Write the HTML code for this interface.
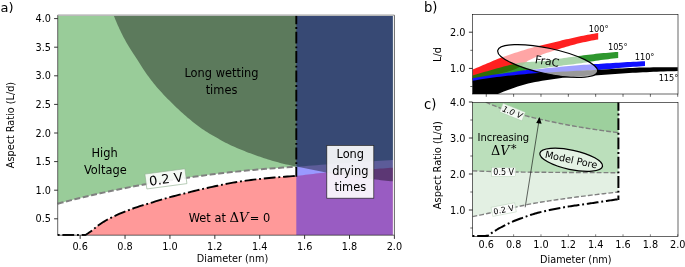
<!DOCTYPE html>
<html><head><meta charset="utf-8"><title>Figure</title>
<style>
html,body{margin:0;padding:0;background:#fff;}
svg{display:block;}
text{font-family:'DejaVu Sans','Liberation Sans',sans-serif;fill:#000;}
</style></head>
<body>
<svg width="685" height="267" viewBox="0 0 685 267">
<rect width="685" height="267" fill="#fff"/>
<clipPath id="ca"><rect x="57.8" y="15.8" width="335.09999999999997" height="219.5"/></clipPath>
<g clip-path="url(#ca)">
<path d="M57.80,15.80 L392.90,15.80 L393.30,160.00 L389.05,160.24 L384.80,160.48 L380.56,160.73 L376.31,160.98 L372.06,161.24 L367.81,161.50 L363.56,161.77 L359.32,162.04 L355.07,162.32 L350.82,162.61 L346.57,162.90 L342.32,163.20 L338.07,163.51 L333.83,163.82 L329.58,164.13 L325.33,164.45 L321.08,164.79 L316.83,165.14 L312.59,165.50 L308.34,165.86 L304.09,166.21 L299.84,166.54 L296.30,166.80 L295.59,166.85 L291.35,167.11 L287.10,167.36 L282.85,167.61 L278.60,167.90 L274.35,168.20 L270.11,168.53 L265.86,168.87 L261.61,169.22 L257.36,169.59 L253.11,169.97 L248.86,170.36 L244.62,170.77 L240.37,171.20 L236.12,171.63 L231.87,172.08 L227.62,172.55 L223.38,173.03 L219.13,173.52 L214.88,174.03 L210.63,174.57 L206.38,175.12 L202.14,175.69 L197.89,176.27 L193.64,176.86 L189.39,177.46 L185.14,178.07 L180.89,178.68 L176.65,179.30 L172.40,179.94 L168.15,180.58 L163.90,181.24 L159.65,181.91 L155.41,182.60 L151.16,183.30 L146.91,184.02 L142.66,184.76 L138.41,185.52 L134.17,186.32 L129.92,187.13 L125.67,187.97 L121.42,188.82 L117.17,189.69 L112.93,190.57 L108.68,191.47 L104.43,192.39 L100.18,193.33 L95.93,194.28 L91.68,195.25 L87.44,196.23 L83.19,197.24 L78.94,198.26 L74.69,199.31 L70.44,200.38 L66.20,201.47 L61.95,202.58 L57.70,203.70Z" fill="#008000" fill-opacity="0.4"/>
<path d="M85.50,235.00 L88.09,233.31 L90.67,231.50 L93.26,229.41 L95.85,227.24 L98.43,225.20 L101.02,223.44 L103.61,221.81 L106.19,220.29 L108.78,218.88 L111.37,217.56 L113.95,216.32 L116.54,215.13 L119.13,213.99 L121.71,212.89 L124.30,211.84 L126.88,210.82 L129.47,209.82 L132.06,208.87 L134.64,207.94 L137.23,207.06 L139.82,206.21 L142.40,205.39 L144.99,204.60 L147.58,203.84 L150.16,203.09 L152.75,202.30 L155.34,201.47 L157.92,200.63 L160.51,199.83 L163.10,199.08 L165.68,198.35 L168.27,197.64 L170.86,196.94 L173.44,196.26 L176.03,195.59 L178.62,194.93 L181.20,194.27 L183.79,193.61 L186.38,192.96 L188.96,192.31 L191.55,191.67 L194.14,191.03 L196.72,190.41 L199.31,189.79 L201.89,189.18 L204.48,188.59 L207.07,188.00 L209.65,187.43 L212.24,186.87 L214.83,186.30 L217.41,185.74 L220.00,185.19 L222.59,184.64 L225.17,184.11 L227.76,183.59 L230.35,183.10 L232.93,182.63 L235.52,182.19 L238.11,181.78 L240.69,181.40 L243.28,181.03 L245.87,180.67 L248.45,180.32 L251.04,179.99 L253.63,179.67 L256.21,179.36 L258.80,179.07 L261.39,178.78 L263.97,178.50 L266.56,178.24 L269.15,177.98 L271.73,177.74 L274.32,177.51 L276.91,177.31 L279.49,177.11 L282.08,176.92 L284.66,176.73 L287.25,176.54 L289.84,176.34 L292.42,176.14 L295.01,175.92 L296.30,175.80 L297.60,175.68 L300.18,175.41 L302.77,175.13 L305.36,174.83 L307.94,174.52 L310.53,174.21 L313.12,173.90 L315.70,173.59 L318.29,173.29 L320.88,173.00 L323.46,172.74 L326.05,172.50 L328.64,172.27 L331.22,172.06 L333.81,171.85 L336.40,171.65 L338.98,171.46 L341.57,171.28 L344.16,171.09 L346.74,170.91 L349.33,170.74 L351.92,170.56 L354.50,170.38 L357.09,170.20 L359.67,170.02 L362.26,169.84 L364.85,169.66 L367.43,169.47 L370.02,169.29 L372.61,169.11 L375.19,168.93 L377.78,168.75 L380.37,168.58 L382.95,168.40 L385.54,168.22 L388.13,168.05 L390.71,167.87 L393.30,167.70 L392.90,235.30 L85.50,235.30Z" fill="#ff0000" fill-opacity="0.4"/>
<rect x="296.3" y="15.8" width="96.59999999999997" height="219.5" fill="#0000ff" fill-opacity="0.4"/>
<path d="M113.80,15.50 L114.55,17.45 L115.32,19.39 L116.11,21.32 L116.92,23.24 L117.75,25.15 L118.60,27.05 L119.47,28.94 L120.36,30.82 L121.26,32.69 L122.18,34.55 L123.11,36.40 L124.08,38.24 L125.08,40.07 L126.10,41.89 L127.14,43.70 L128.20,45.49 L129.26,47.28 L130.34,49.06 L131.45,50.82 L132.58,52.56 L133.73,54.30 L134.89,56.03 L136.04,57.76 L137.19,59.50 L138.31,61.26 L139.41,63.03 L140.50,64.80 L141.59,66.57 L142.72,68.32 L143.87,70.05 L145.05,71.76 L146.24,73.47 L147.46,75.16 L148.68,76.85 L149.93,78.53 L151.19,80.19 L152.46,81.83 L153.76,83.46 L155.07,85.06 L156.40,86.65 L157.76,88.23 L159.13,89.79 L160.53,91.33 L161.94,92.87 L163.36,94.39 L164.80,95.90 L166.25,97.40 L167.71,98.89 L169.17,100.37 L170.64,101.85 L172.12,103.31 L173.60,104.77 L175.09,106.21 L176.60,107.65 L178.12,109.08 L179.64,110.50 L181.18,111.91 L182.73,113.30 L184.29,114.68 L185.86,116.05 L187.44,117.40 L189.03,118.73 L190.63,120.06 L192.24,121.39 L193.86,122.70 L195.50,123.99 L197.15,125.27 L198.82,126.52 L200.49,127.75 L202.19,128.95 L203.91,130.11 L205.64,131.24 L207.40,132.35 L209.18,133.43 L210.98,134.50 L212.78,135.54 L214.59,136.58 L216.40,137.60 L218.22,138.62 L220.03,139.64 L221.86,140.65 L223.69,141.65 L225.53,142.63 L227.38,143.58 L229.24,144.50 L231.12,145.38 L233.01,146.25 L234.91,147.09 L236.81,147.93 L238.73,148.75 L240.65,149.56 L242.58,150.35 L244.51,151.12 L246.46,151.89 L248.40,152.64 L250.35,153.37 L252.30,154.09 L254.26,154.80 L256.22,155.49 L258.18,156.17 L260.15,156.84 L262.12,157.51 L264.10,158.16 L266.08,158.80 L268.07,159.43 L270.06,160.04 L272.06,160.64 L274.06,161.23 L276.06,161.80 L278.06,162.35 L280.07,162.89 L282.08,163.41 L284.10,163.91 L286.12,164.40 L288.15,164.87 L290.18,165.32 L292.22,165.76 L294.26,166.19 L296.30,166.60 L296.30,166.60 L298.79,167.06 L301.27,167.52 L303.76,167.99 L306.25,168.47 L308.74,168.95 L311.22,169.44 L313.71,169.96 L316.20,170.49 L318.68,171.02 L321.17,171.55 L323.66,172.06 L326.15,172.53 L328.63,172.96 L331.12,173.38 L333.61,173.78 L336.09,174.17 L338.58,174.55 L341.07,174.92 L343.56,175.29 L346.04,175.65 L348.53,176.02 L351.02,176.37 L353.51,176.72 L355.99,177.06 L358.48,177.40 L360.97,177.73 L363.45,178.05 L365.94,178.38 L368.43,178.69 L370.92,179.00 L373.40,179.30 L375.89,179.59 L378.38,179.87 L380.86,180.14 L383.35,180.41 L385.84,180.67 L388.33,180.92 L390.81,181.16 L393.30,181.40 L392.90,15.80Z" fill="#000" fill-opacity="0.4"/>
</g>
<path d="M57.70,203.70 L61.95,202.58 L66.20,201.47 L70.44,200.38 L74.69,199.31 L78.94,198.26 L83.19,197.24 L87.44,196.23 L91.68,195.25 L95.93,194.28 L100.18,193.33 L104.43,192.39 L108.68,191.47 L112.93,190.57 L117.17,189.69 L121.42,188.82 L125.67,187.97 L129.92,187.13 L134.17,186.32 L138.41,185.52 L142.66,184.76 L146.91,184.02 L151.16,183.30 L155.41,182.60 L159.65,181.91 L163.90,181.24 L168.15,180.58 L172.40,179.94 L176.65,179.30 L180.89,178.68 L185.14,178.07 L189.39,177.46 L193.64,176.86 L197.89,176.27 L202.14,175.69 L206.38,175.12 L210.63,174.57 L214.88,174.03 L219.13,173.52 L223.38,173.03 L227.62,172.55 L231.87,172.08 L236.12,171.63 L240.37,171.20 L244.62,170.77 L248.86,170.36 L253.11,169.97 L257.36,169.59 L261.61,169.22 L265.86,168.87 L270.11,168.53 L274.35,168.20 L278.60,167.90 L282.85,167.61 L287.10,167.36 L291.35,167.11 L295.59,166.85 L296.30,166.80" fill="none" stroke="#808080" stroke-width="2" stroke-dasharray="6,2.6"/>
<path d="M57.70,235.00 L85.50,235.00 L88.09,233.31 L90.67,231.50 L93.26,229.41 L95.85,227.24 L98.43,225.20 L101.02,223.44 L103.61,221.81 L106.19,220.29 L108.78,218.88 L111.37,217.56 L113.95,216.32 L116.54,215.13 L119.13,213.99 L121.71,212.89 L124.30,211.84 L126.88,210.82 L129.47,209.82 L132.06,208.87 L134.64,207.94 L137.23,207.06 L139.82,206.21 L142.40,205.39 L144.99,204.60 L147.58,203.84 L150.16,203.09 L152.75,202.30 L155.34,201.47 L157.92,200.63 L160.51,199.83 L163.10,199.08 L165.68,198.35 L168.27,197.64 L170.86,196.94 L173.44,196.26 L176.03,195.59 L178.62,194.93 L181.20,194.27 L183.79,193.61 L186.38,192.96 L188.96,192.31 L191.55,191.67 L194.14,191.03 L196.72,190.41 L199.31,189.79 L201.89,189.18 L204.48,188.59 L207.07,188.00 L209.65,187.43 L212.24,186.87 L214.83,186.30 L217.41,185.74 L220.00,185.19 L222.59,184.64 L225.17,184.11 L227.76,183.59 L230.35,183.10 L232.93,182.63 L235.52,182.19 L238.11,181.78 L240.69,181.40 L243.28,181.03 L245.87,180.67 L248.45,180.32 L251.04,179.99 L253.63,179.67 L256.21,179.36 L258.80,179.07 L261.39,178.78 L263.97,178.50 L266.56,178.24 L269.15,177.98 L271.73,177.74 L274.32,177.51 L276.91,177.31 L279.49,177.11 L282.08,176.92 L284.66,176.73 L287.25,176.54 L289.84,176.34 L292.42,176.14 L295.01,175.92 L296.30,175.80" fill="none" stroke="#000" stroke-width="1.9" stroke-dasharray="11.8,2.8,1.9,2.8" stroke-dashoffset="14.6" stroke-linejoin="round"/>
<path d="M296.3,15.8V176.70" fill="none" stroke="#000" stroke-width="1.9" stroke-dasharray="11.8,2.8,1.9,2.8" stroke-dashoffset="3.3"/>
<path d="M57.7,15.2H394.4" stroke="#a4a4a4" stroke-width="1.2" fill="none"/>
<path d="M57.7,15.2V235.2H394.4V15.2" stroke="#222" stroke-width="0.7" fill="none"/>
<path d="M54.1,218.80H57.7" stroke="#000" stroke-width="0.8"/>
<text x="50.900000000000006" y="222.35" font-size="9.7" text-anchor="end">0.5</text>
<path d="M54.1,190.20H57.7" stroke="#000" stroke-width="0.8"/>
<text x="50.900000000000006" y="193.75" font-size="9.7" text-anchor="end">1.0</text>
<path d="M54.1,161.60H57.7" stroke="#000" stroke-width="0.8"/>
<text x="50.900000000000006" y="165.15" font-size="9.7" text-anchor="end">1.5</text>
<path d="M54.1,133.00H57.7" stroke="#000" stroke-width="0.8"/>
<text x="50.900000000000006" y="136.55" font-size="9.7" text-anchor="end">2.0</text>
<path d="M54.1,104.40H57.7" stroke="#000" stroke-width="0.8"/>
<text x="50.900000000000006" y="107.95" font-size="9.7" text-anchor="end">2.5</text>
<path d="M54.1,75.80H57.7" stroke="#000" stroke-width="0.8"/>
<text x="50.900000000000006" y="79.35" font-size="9.7" text-anchor="end">3.0</text>
<path d="M54.1,47.20H57.7" stroke="#000" stroke-width="0.8"/>
<text x="50.900000000000006" y="50.75" font-size="9.7" text-anchor="end">3.5</text>
<path d="M54.1,18.60H57.7" stroke="#000" stroke-width="0.8"/>
<text x="50.900000000000006" y="22.15" font-size="9.7" text-anchor="end">4.0</text>
<path d="M80.15,235.2V238.89999999999998" stroke="#000" stroke-width="0.8"/>
<text x="80.15" y="249.7" font-size="9.7" text-anchor="middle">0.6</text>
<path d="M125.04,235.2V238.89999999999998" stroke="#000" stroke-width="0.8"/>
<text x="125.04" y="249.7" font-size="9.7" text-anchor="middle">0.8</text>
<path d="M169.94,235.2V238.89999999999998" stroke="#000" stroke-width="0.8"/>
<text x="169.94" y="249.7" font-size="9.7" text-anchor="middle">1.0</text>
<path d="M214.83,235.2V238.89999999999998" stroke="#000" stroke-width="0.8"/>
<text x="214.83" y="249.7" font-size="9.7" text-anchor="middle">1.2</text>
<path d="M259.72,235.2V238.89999999999998" stroke="#000" stroke-width="0.8"/>
<text x="259.72" y="249.7" font-size="9.7" text-anchor="middle">1.4</text>
<path d="M304.62,235.2V238.89999999999998" stroke="#000" stroke-width="0.8"/>
<text x="304.62" y="249.7" font-size="9.7" text-anchor="middle">1.6</text>
<path d="M349.51,235.2V238.89999999999998" stroke="#000" stroke-width="0.8"/>
<text x="349.51" y="249.7" font-size="9.7" text-anchor="middle">1.8</text>
<path d="M394.40,235.2V238.89999999999998" stroke="#000" stroke-width="0.8"/>
<text x="394.40" y="249.7" font-size="9.7" text-anchor="middle">2.0</text>
<text x="232.5" y="261.6" font-size="9.7" text-anchor="middle">Diameter (nm)</text>
<text transform="translate(14.3,125) rotate(-90)" font-size="9.7" text-anchor="middle">Aspect Ratio (L/d)</text>
<text x="0.5" y="11.5" font-size="13">a)</text>
<text x="221.5" y="76.7" font-size="11.4" text-anchor="middle">Long wetting</text>
<text x="221.5" y="93.6" font-size="11.4" text-anchor="middle">times</text>
<text x="104.6" y="156.7" font-size="11.4" text-anchor="middle">High</text>
<text x="105.3" y="173.5" font-size="11.4" text-anchor="middle">Voltage</text>
<g transform="translate(165.9,178.85) rotate(-7.6)"><rect x="-20.2" y="-7.5" width="40.4" height="15" fill="#fff" fill-opacity="0.88" stroke="#8fb08f" stroke-width="0.6"/><text x="0" y="4.7" font-size="13" text-anchor="middle">0.2 V</text></g>
<text x="229.5" y="221.7" font-size="11.4" text-anchor="middle">Wet at <tspan font-family="'DejaVu Serif','Liberation Serif',serif" font-size="13.2">Δ</tspan><tspan font-family="'DejaVu Serif','Liberation Serif',serif" font-style="italic" font-size="13.2">V</tspan><tspan dx="1.2">= 0</tspan></text>
<rect x="326.8" y="145.4" width="47" height="52.8" fill="#fff" fill-opacity="0.9" stroke="#222" stroke-width="0.7"/>
<text x="350.3" y="157.6" font-size="11.4" text-anchor="middle">Long</text>
<text x="350.3" y="174.5" font-size="11.4" text-anchor="middle">drying</text>
<text x="350.3" y="191.4" font-size="11.4" text-anchor="middle">times</text>
<clipPath id="cb"><rect x="472.5" y="14.3" width="205.5" height="79.7"/></clipPath>
<g clip-path="url(#cb)">
<path d="M472.50,69.50 L474.63,68.63 L476.76,67.75 L478.89,66.88 L481.02,66.00 L483.15,65.11 L485.28,64.23 L487.41,63.34 L489.54,62.43 L491.67,61.51 L493.81,60.58 L495.94,59.68 L498.07,58.80 L500.20,57.98 L502.33,57.20 L504.46,56.43 L506.59,55.69 L508.72,54.97 L510.85,54.25 L512.98,53.54 L515.11,52.84 L517.24,52.14 L519.37,51.46 L521.50,50.78 L523.63,50.13 L525.76,49.49 L527.89,48.87 L530.02,48.26 L532.15,47.67 L534.28,47.09 L536.42,46.52 L538.55,45.97 L540.68,45.43 L542.81,44.91 L544.94,44.40 L547.07,43.90 L549.20,43.41 L551.33,42.90 L553.46,42.39 L555.59,41.88 L557.72,41.38 L559.85,40.88 L561.98,40.37 L564.11,39.87 L566.24,39.37 L568.37,38.88 L570.50,38.39 L572.63,37.90 L574.76,37.43 L576.89,36.97 L579.03,36.52 L581.16,36.09 L583.29,35.66 L585.42,35.24 L587.55,34.83 L589.68,34.43 L591.81,34.04 L593.94,33.66 L596.07,33.29 L598.20,32.93 L598.20,39.43 L596.07,39.79 L593.94,40.18 L591.81,40.58 L589.68,41.00 L587.55,41.44 L585.42,41.90 L583.29,42.37 L581.16,42.85 L579.03,43.35 L576.89,43.87 L574.76,44.42 L572.63,44.99 L570.50,45.58 L568.37,46.19 L566.24,46.81 L564.11,47.44 L561.98,48.09 L559.85,48.75 L557.72,49.41 L555.59,50.08 L553.46,50.77 L551.33,51.46 L549.20,52.17 L547.07,52.87 L544.94,53.60 L542.81,54.36 L540.68,55.15 L538.55,55.97 L536.42,56.81 L534.28,57.68 L532.15,58.63 L530.02,59.68 L527.89,60.86 L525.76,62.45 L523.63,64.31 L521.50,65.98 L519.37,67.21 L517.24,68.26 L515.11,69.17 L512.98,69.97 L510.85,70.68 L508.72,71.31 L506.59,71.91 L504.46,72.47 L502.33,73.00 L500.20,73.52 L498.07,74.07 L495.94,74.63 L493.81,75.21 L491.67,75.77 L489.54,76.31 L487.41,76.82 L485.28,77.30 L483.15,77.76 L481.02,78.20 L478.89,78.63 L476.76,79.04 L474.63,79.43 L472.50,79.80Z" fill="#ff2020" fill-opacity="1.0"/>
<path d="M472.50,75.40 L474.97,74.69 L477.44,73.98 L479.91,73.27 L482.38,72.56 L484.85,71.86 L487.32,71.15 L489.79,70.44 L492.26,69.73 L494.73,69.02 L497.19,68.32 L499.66,67.65 L502.13,66.99 L504.60,66.34 L507.07,65.71 L509.54,65.09 L512.01,64.49 L514.48,63.88 L516.95,63.26 L519.42,62.78 L521.89,62.49 L524.36,62.27 L526.83,62.09 L529.30,61.94 L531.77,61.80 L534.24,61.67 L536.71,61.53 L539.18,61.37 L541.65,61.18 L544.12,60.94 L546.58,60.65 L549.05,60.33 L551.52,59.96 L553.99,59.56 L556.46,59.16 L558.93,58.77 L561.40,58.39 L563.87,58.04 L566.34,57.69 L568.81,57.34 L571.28,56.99 L573.75,56.65 L576.22,56.32 L578.69,55.99 L581.16,55.67 L583.63,55.35 L586.10,55.04 L588.57,54.73 L591.04,54.43 L593.51,54.14 L595.97,53.85 L598.44,53.57 L600.91,53.32 L603.38,53.09 L605.85,52.88 L608.32,52.67 L610.79,52.47 L613.26,52.27 L615.73,52.08 L618.20,51.90 L618.20,58.00 L615.73,58.28 L613.26,58.56 L610.79,58.86 L608.32,59.15 L605.85,59.46 L603.38,59.77 L600.91,60.08 L598.44,60.43 L595.97,60.81 L593.51,61.20 L591.04,61.61 L588.57,62.01 L586.10,62.40 L583.63,62.79 L581.16,63.16 L578.69,63.50 L576.22,63.83 L573.75,64.14 L571.28,64.45 L568.81,64.75 L566.34,65.05 L563.87,65.35 L561.40,65.66 L558.93,65.99 L556.46,66.32 L553.99,66.67 L551.52,67.02 L549.05,67.37 L546.58,67.69 L544.12,68.03 L541.65,68.37 L539.18,68.71 L536.71,69.06 L534.24,69.41 L531.77,69.77 L529.30,70.15 L526.83,70.53 L524.36,70.92 L521.89,71.32 L519.42,71.73 L516.95,72.14 L514.48,72.56 L512.01,72.97 L509.54,73.37 L507.07,73.77 L504.60,74.16 L502.13,74.53 L499.66,74.90 L497.19,75.26 L494.73,75.63 L492.26,76.01 L489.79,76.41 L487.32,76.83 L484.85,77.28 L482.38,77.75 L479.91,78.24 L477.44,78.74 L474.97,79.26 L472.50,79.80Z" fill="#008000" fill-opacity="0.82"/>
<path d="M472.50,78.30 L475.42,77.72 L478.35,77.16 L481.27,76.63 L484.19,76.13 L487.12,75.66 L490.04,75.22 L492.97,74.82 L495.89,74.43 L498.81,74.04 L501.74,73.64 L504.66,73.24 L507.58,72.84 L510.51,72.43 L513.43,72.01 L516.36,71.53 L519.28,71.03 L522.20,70.55 L525.13,70.14 L528.05,69.85 L530.97,69.62 L533.90,69.42 L536.82,69.18 L539.75,68.92 L542.67,68.65 L545.59,68.37 L548.52,68.09 L551.44,67.78 L554.36,67.46 L557.29,67.15 L560.21,66.86 L563.14,66.58 L566.06,66.31 L568.98,66.04 L571.91,65.78 L574.83,65.53 L577.75,65.29 L580.68,65.07 L583.60,64.86 L586.53,64.67 L589.45,64.48 L592.37,64.29 L595.30,64.10 L598.22,63.90 L601.14,63.71 L604.07,63.53 L606.99,63.36 L609.92,63.18 L612.84,62.99 L615.76,62.81 L618.69,62.63 L621.61,62.44 L624.53,62.27 L627.46,62.10 L630.38,61.93 L633.31,61.78 L636.23,61.63 L639.15,61.48 L642.08,61.34 L645.00,61.20 L645.00,66.10 L642.08,66.27 L639.15,66.45 L636.23,66.64 L633.31,66.84 L630.38,67.05 L627.46,67.28 L624.53,67.53 L621.61,67.79 L618.69,68.07 L615.76,68.35 L612.84,68.64 L609.92,68.92 L606.99,69.18 L604.07,69.43 L601.14,69.66 L598.22,69.90 L595.30,70.12 L592.37,70.32 L589.45,70.50 L586.53,70.68 L583.60,70.87 L580.68,71.07 L577.75,71.29 L574.83,71.51 L571.91,71.74 L568.98,71.98 L566.06,72.22 L563.14,72.47 L560.21,72.73 L557.29,73.00 L554.36,73.27 L551.44,73.55 L548.52,73.80 L545.59,74.04 L542.67,74.28 L539.75,74.53 L536.82,74.79 L533.90,75.05 L530.97,75.32 L528.05,75.59 L525.13,75.87 L522.20,76.16 L519.28,76.46 L516.36,76.76 L513.43,77.07 L510.51,77.39 L507.58,77.72 L504.66,78.06 L501.74,78.42 L498.81,78.80 L495.89,79.19 L492.97,79.60 L490.04,80.03 L487.12,80.46 L484.19,80.91 L481.27,81.37 L478.35,81.84 L475.42,82.32 L472.50,82.80Z" fill="#1010ff" fill-opacity="1.0"/>
<path d="M472.50,80.80 L475.98,80.17 L479.46,79.56 L482.93,78.99 L486.41,78.46 L489.89,77.97 L493.37,77.50 L496.85,77.06 L500.32,76.64 L503.80,76.24 L507.28,75.86 L510.76,75.49 L514.24,75.13 L517.71,74.78 L521.19,74.45 L524.67,74.15 L528.15,73.86 L531.63,73.58 L535.10,73.31 L538.58,73.06 L542.06,72.83 L545.54,72.62 L549.02,72.43 L552.49,72.22 L555.97,72.00 L559.45,71.79 L562.93,71.59 L566.41,71.39 L569.88,71.20 L573.36,71.01 L576.84,70.83 L580.32,70.67 L583.79,70.51 L587.27,70.35 L590.75,70.19 L594.23,70.01 L597.71,69.83 L601.18,69.65 L604.66,69.46 L608.14,69.25 L611.62,69.02 L615.10,68.80 L618.57,68.58 L622.05,68.40 L625.53,68.22 L629.01,68.05 L632.49,67.88 L635.96,67.73 L639.44,67.61 L642.92,67.52 L646.40,67.46 L649.88,67.41 L653.35,67.37 L656.83,67.33 L660.31,67.29 L663.79,67.26 L667.27,67.23 L670.74,67.22 L674.22,67.20 L677.70,67.20 L677.70,71.10 L674.22,71.18 L670.74,71.27 L667.27,71.37 L663.79,71.48 L660.31,71.60 L656.83,71.73 L653.35,71.87 L649.88,72.02 L646.40,72.17 L642.92,72.32 L639.44,72.49 L635.96,72.65 L632.49,72.83 L629.01,73.01 L625.53,73.21 L622.05,73.44 L618.57,73.69 L615.10,73.94 L611.62,74.20 L608.14,74.46 L604.66,74.70 L601.18,74.93 L597.71,75.17 L594.23,75.41 L590.75,75.64 L587.27,75.87 L583.79,76.11 L580.32,76.35 L576.84,76.62 L573.36,76.89 L569.88,77.18 L566.41,77.49 L562.93,77.82 L559.45,78.20 L555.97,78.65 L552.49,79.17 L549.02,79.72 L545.54,80.28 L542.06,80.86 L538.58,81.46 L535.10,82.11 L531.63,82.82 L528.15,83.59 L524.67,84.43 L521.19,85.40 L517.71,86.51 L514.24,87.71 L510.76,88.97 L507.28,90.26 L503.80,91.55 L500.32,92.93 L496.85,94.52 L493.37,96.32 L489.89,98.29 L486.41,100.43 L482.93,102.75 L479.46,105.25 L475.98,107.93 L472.50,110.80Z" fill="#000" fill-opacity="1.0"/>
</g>
<ellipse cx="547.7" cy="61.0" rx="51" ry="12.8" transform="rotate(12 547.7 60.75)" fill="#fff" fill-opacity="0.6" stroke="#000" stroke-width="1.2"/>
<text transform="translate(547.2,61.0) rotate(9)" x="0" y="4" font-size="11" text-anchor="middle">FraC</text>
<rect x="472.5" y="14.3" width="205.5" height="79.7" fill="none" stroke="#000" stroke-width="0.6"/>
<path d="M468.9,68.40H472.5" stroke="#000" stroke-width="0.8"/>
<text x="465.5" y="71.95" font-size="9.7" text-anchor="end">1.0</text>
<path d="M468.9,32.20H472.5" stroke="#000" stroke-width="0.8"/>
<text x="465.5" y="35.75" font-size="9.7" text-anchor="end">2.0</text>
<path d="M470.3,86.50H472.5" stroke="#000" stroke-width="0.6"/>
<path d="M470.3,50.30H472.5" stroke="#000" stroke-width="0.6"/>
<path d="M486.28,94.0V96.8" stroke="#000" stroke-width="0.6"/>
<path d="M513.62,94.0V96.8" stroke="#000" stroke-width="0.6"/>
<path d="M540.98,94.0V96.8" stroke="#000" stroke-width="0.6"/>
<path d="M568.33,94.0V96.8" stroke="#000" stroke-width="0.6"/>
<path d="M595.67,94.0V96.8" stroke="#000" stroke-width="0.6"/>
<path d="M623.03,94.0V96.8" stroke="#000" stroke-width="0.6"/>
<path d="M650.38,94.0V96.8" stroke="#000" stroke-width="0.6"/>
<path d="M677.73,94.0V96.8" stroke="#000" stroke-width="0.6"/>
<text transform="translate(441,54.5) rotate(-90)" font-size="9.7" text-anchor="middle">L/d</text>
<text x="424" y="12.3" font-size="13.2">b)</text>
<text x="598.7" y="31.7" font-size="8.2" text-anchor="middle">100°</text>
<text x="617.8" y="50.0" font-size="8.2" text-anchor="middle">105°</text>
<text x="644.6" y="59.7" font-size="8.2" text-anchor="middle">110°</text>
<text x="668.5" y="80.6" font-size="8.2" text-anchor="middle">115°</text>
<clipPath id="cc"><rect x="472.5" y="102.4" width="205.5" height="133.9"/></clipPath>
<g clip-path="url(#cc)">
<path d="M472.50,102.40 L618.40,102.40 L618.40,192.00 L615.93,192.27 L613.45,192.55 L610.98,192.83 L608.51,193.11 L606.04,193.40 L603.56,193.69 L601.09,193.98 L598.62,194.28 L596.14,194.57 L593.67,194.87 L591.20,195.18 L588.73,195.48 L586.25,195.79 L583.78,196.10 L581.31,196.41 L578.83,196.73 L576.36,197.05 L573.89,197.38 L571.42,197.72 L568.94,198.06 L566.47,198.40 L564.00,198.74 L561.52,199.08 L559.05,199.43 L556.58,199.78 L554.11,200.13 L551.63,200.49 L549.16,200.86 L546.69,201.24 L544.21,201.62 L541.74,202.02 L539.27,202.42 L536.79,202.84 L534.32,203.27 L531.85,203.71 L529.38,204.18 L526.90,204.67 L524.43,205.18 L521.96,205.72 L519.48,206.26 L517.01,206.81 L514.54,207.38 L512.07,207.94 L509.59,208.51 L507.12,209.08 L504.65,209.63 L502.17,210.18 L499.70,210.74 L497.23,211.30 L494.76,211.87 L492.28,212.43 L489.81,212.98 L487.34,213.53 L484.86,214.06 L482.39,214.58 L479.92,215.10 L477.45,215.60 L474.97,216.11 L472.50,216.60Z" fill="#e3f0e3"/>
<path d="M472.50,102.40 L618.40,102.40 L618.40,172.70 L613.37,172.69 L608.34,172.67 L603.31,172.65 L598.28,172.63 L593.24,172.61 L588.21,172.59 L583.18,172.56 L578.15,172.53 L573.12,172.51 L568.09,172.47 L563.06,172.44 L558.03,172.41 L553.00,172.37 L547.97,172.33 L542.93,172.29 L537.90,172.25 L532.87,172.20 L527.84,172.15 L522.81,172.09 L517.78,172.03 L512.75,171.96 L507.72,171.88 L502.69,171.79 L497.66,171.69 L492.62,171.56 L487.59,171.42 L482.56,171.26 L477.53,171.08 L472.50,170.90Z" fill="#bbdfbb"/>
<path d="M485.80,102.40 L618.40,102.40 L618.40,132.70 L616.15,132.41 L613.91,132.12 L611.66,131.82 L609.41,131.52 L607.16,131.21 L604.92,130.90 L602.67,130.58 L600.42,130.26 L598.17,129.94 L595.93,129.61 L593.68,129.28 L591.43,128.94 L589.18,128.60 L586.94,128.26 L584.69,127.91 L582.44,127.55 L580.19,127.18 L577.95,126.80 L575.70,126.41 L573.45,126.01 L571.20,125.60 L568.96,125.19 L566.71,124.76 L564.46,124.33 L562.21,123.89 L559.97,123.45 L557.72,122.99 L555.47,122.53 L553.22,122.06 L550.98,121.59 L548.73,121.11 L546.48,120.62 L544.23,120.13 L541.99,119.63 L539.74,119.12 L537.49,118.61 L535.24,118.09 L533.00,117.57 L530.75,117.03 L528.50,116.48 L526.25,115.93 L524.01,115.36 L521.76,114.77 L519.51,114.18 L517.26,113.56 L515.02,112.93 L512.77,112.28 L510.52,111.60 L508.27,110.89 L506.03,110.15 L503.78,109.37 L501.53,108.57 L499.28,107.73 L497.04,106.86 L494.79,105.96 L492.54,105.02 L490.29,104.04 L488.05,103.04 L485.80,102.00Z" fill="#9dd09d"/>
<path d="M485.80,102.00 L488.05,103.04 L490.29,104.04 L492.54,105.02 L494.79,105.96 L497.04,106.86 L499.28,107.73 L501.53,108.57 L503.78,109.37 L506.03,110.15 L508.27,110.89 L510.52,111.60 L512.77,112.28 L515.02,112.93 L517.26,113.56 L519.51,114.18 L521.76,114.77 L524.01,115.36 L526.25,115.93 L528.50,116.48 L530.75,117.03 L533.00,117.57 L535.24,118.09 L537.49,118.61 L539.74,119.12 L541.99,119.63 L544.23,120.13 L546.48,120.62 L548.73,121.11 L550.98,121.59 L553.22,122.06 L555.47,122.53 L557.72,122.99 L559.97,123.45 L562.21,123.89 L564.46,124.33 L566.71,124.76 L568.96,125.19 L571.20,125.60 L573.45,126.01 L575.70,126.41 L577.95,126.80 L580.19,127.18 L582.44,127.55 L584.69,127.91 L586.94,128.26 L589.18,128.60 L591.43,128.94 L593.68,129.28 L595.93,129.61 L598.17,129.94 L600.42,130.26 L602.67,130.58 L604.92,130.90 L607.16,131.21 L609.41,131.52 L611.66,131.82 L613.91,132.12 L616.15,132.41 L618.40,132.70" fill="none" stroke="#808080" stroke-width="1.4" stroke-dasharray="4.8,2.1"/>
<path d="M472.50,170.90 L477.53,171.08 L482.56,171.26 L487.59,171.42 L492.62,171.56 L497.66,171.69 L502.69,171.79 L507.72,171.88 L512.75,171.96 L517.78,172.03 L522.81,172.09 L527.84,172.15 L532.87,172.20 L537.90,172.25 L542.93,172.29 L547.97,172.33 L553.00,172.37 L558.03,172.41 L563.06,172.44 L568.09,172.47 L573.12,172.51 L578.15,172.53 L583.18,172.56 L588.21,172.59 L593.24,172.61 L598.28,172.63 L603.31,172.65 L608.34,172.67 L613.37,172.69 L618.40,172.70" fill="none" stroke="#808080" stroke-width="1.4" stroke-dasharray="4.8,2.1"/>
<path d="M472.50,216.60 L474.97,216.11 L477.45,215.60 L479.92,215.10 L482.39,214.58 L484.86,214.06 L487.34,213.53 L489.81,212.98 L492.28,212.43 L494.76,211.87 L497.23,211.30 L499.70,210.74 L502.17,210.18 L504.65,209.63 L507.12,209.08 L509.59,208.51 L512.07,207.94 L514.54,207.38 L517.01,206.81 L519.48,206.26 L521.96,205.72 L524.43,205.18 L526.90,204.67 L529.38,204.18 L531.85,203.71 L534.32,203.27 L536.79,202.84 L539.27,202.42 L541.74,202.02 L544.21,201.62 L546.69,201.24 L549.16,200.86 L551.63,200.49 L554.11,200.13 L556.58,199.78 L559.05,199.43 L561.52,199.08 L564.00,198.74 L566.47,198.40 L568.94,198.06 L571.42,197.72 L573.89,197.38 L576.36,197.05 L578.83,196.73 L581.31,196.41 L583.78,196.10 L586.25,195.79 L588.73,195.48 L591.20,195.18 L593.67,194.87 L596.14,194.57 L598.62,194.28 L601.09,193.98 L603.56,193.69 L606.04,193.40 L608.51,193.11 L610.98,192.83 L613.45,192.55 L615.93,192.27 L618.40,192.00" fill="none" stroke="#808080" stroke-width="1.4" stroke-dasharray="4.8,2.1"/>
</g>
<path d="M472.50,235.90 L487.50,235.90 L488.82,235.06 L490.14,234.14 L491.47,233.14 L492.79,232.21 L494.11,231.35 L495.43,230.53 L496.76,229.75 L498.08,228.98 L499.40,228.24 L500.72,227.50 L502.04,226.78 L503.37,226.08 L504.69,225.40 L506.01,224.73 L507.33,224.08 L508.66,223.44 L509.98,222.82 L511.30,222.20 L512.62,221.61 L513.94,221.04 L515.27,220.49 L516.59,219.98 L517.91,219.49 L519.23,219.02 L520.56,218.55 L521.88,218.09 L523.20,217.61 L524.52,217.13 L525.84,216.65 L527.17,216.18 L528.49,215.71 L529.81,215.26 L531.13,214.82 L532.46,214.39 L533.78,213.97 L535.10,213.56 L536.42,213.17 L537.74,212.81 L539.07,212.47 L540.39,212.14 L541.71,211.82 L543.03,211.51 L544.36,211.21 L545.68,210.92 L547.00,210.64 L548.32,210.35 L549.64,210.07 L550.97,209.80 L552.29,209.52 L553.61,209.25 L554.93,208.98 L556.26,208.72 L557.58,208.46 L558.90,208.21 L560.22,207.96 L561.54,207.71 L562.87,207.47 L564.19,207.24 L565.51,207.01 L566.83,206.80 L568.16,206.58 L569.48,206.37 L570.80,206.17 L572.12,205.97 L573.44,205.77 L574.77,205.58 L576.09,205.39 L577.41,205.20 L578.73,205.01 L580.06,204.82 L581.38,204.64 L582.70,204.45 L584.02,204.27 L585.34,204.08 L586.67,203.90 L587.99,203.71 L589.31,203.52 L590.63,203.32 L591.96,203.13 L593.28,202.93 L594.60,202.74 L595.92,202.54 L597.24,202.35 L598.57,202.15 L599.89,201.95 L601.21,201.76 L602.53,201.56 L603.86,201.36 L605.18,201.17 L606.50,200.97 L607.82,200.77 L609.14,200.58 L610.47,200.38 L611.79,200.18 L613.11,199.99 L614.43,199.79 L615.76,199.59 L617.08,199.40 L618.40,199.20" fill="none" stroke="#000" stroke-width="2" stroke-dasharray="11.8,2.8,1.9,2.8" stroke-dashoffset="14.6" stroke-linejoin="round"/>
<path d="M618.4,102.4V200.10" fill="none" stroke="#000" stroke-width="2" stroke-dasharray="11.8,2.8,1.9,2.8" stroke-dashoffset="3.5"/>
<path d="M525.2,207.3 L539,120.5" stroke="#000" stroke-width="0.6" fill="none"/>
<path d="M539.5,117.1 L541.6,123.8 L536.2,122.9 Z" fill="#000"/>
<g transform="translate(512.5,112.1) rotate(22)"><rect x="-12" y="-4.6" width="24" height="9.2" fill="#fff" fill-opacity="0.85" stroke="#a8c8a8" stroke-width="0.4"/><text x="0" y="2.9" font-size="8" font-style="italic" text-anchor="middle">1.0 V</text></g>
<g transform="translate(503.7,172.0) rotate(0)"><rect x="-12" y="-4.6" width="24" height="9.2" fill="#fff" fill-opacity="0.85" stroke="#a8c8a8" stroke-width="0.4"/><text x="0" y="2.9" font-size="8" text-anchor="middle">0.5 V</text></g>
<g transform="translate(503.7,209.6) rotate(-11)"><rect x="-12" y="-4.6" width="24" height="9.2" fill="#fff" fill-opacity="0.85" stroke="#a8c8a8" stroke-width="0.4"/><text x="0" y="2.9" font-size="8" text-anchor="middle">0.2 V</text></g>
<text x="503.4" y="141.2" font-size="10" text-anchor="middle">Increasing</text>
<text x="503.8" y="154.8" font-size="12.8" text-anchor="middle"><tspan font-family="'DejaVu Serif','Liberation Serif',serif">Δ</tspan><tspan font-family="'DejaVu Serif','Liberation Serif',serif" font-style="italic">V</tspan><tspan font-family="'DejaVu Serif','Liberation Serif',serif" font-size="11" dy="-2.6" dx="1.6">*</tspan></text>
<ellipse cx="571.2" cy="159.8" rx="32" ry="9.7" transform="rotate(12 571.2 159.8)" fill="#fff" fill-opacity="0.6" stroke="#000" stroke-width="1.25"/>
<text transform="translate(571.2,159.8) rotate(12)" x="0" y="3.3" font-size="9.7" text-anchor="middle">Model Pore</text>
<rect x="472.5" y="102.4" width="205.5" height="133.9" fill="none" stroke="#000" stroke-width="0.6"/>
<path d="M468.9,210.00H472.5" stroke="#000" stroke-width="0.8"/>
<text x="465.5" y="213.55" font-size="9.7" text-anchor="end">1.0</text>
<path d="M468.9,174.00H472.5" stroke="#000" stroke-width="0.8"/>
<text x="465.5" y="177.55" font-size="9.7" text-anchor="end">2.0</text>
<path d="M468.9,138.00H472.5" stroke="#000" stroke-width="0.8"/>
<text x="465.5" y="141.55" font-size="9.7" text-anchor="end">3.0</text>
<path d="M468.9,102.00H472.5" stroke="#000" stroke-width="0.8"/>
<text x="465.5" y="105.55" font-size="9.7" text-anchor="end">4.0</text>
<path d="M470.3,228.00H472.5" stroke="#000" stroke-width="0.6"/>
<path d="M470.3,192.00H472.5" stroke="#000" stroke-width="0.6"/>
<path d="M470.3,156.00H472.5" stroke="#000" stroke-width="0.6"/>
<path d="M470.3,120.00H472.5" stroke="#000" stroke-width="0.6"/>
<path d="M486.28,236.3V234.3" stroke="#000" stroke-width="0.5"/>
<text x="486.28" y="247.7" font-size="9.7" text-anchor="middle">0.6</text>
<path d="M513.62,236.3V234.3" stroke="#000" stroke-width="0.5"/>
<text x="513.62" y="247.7" font-size="9.7" text-anchor="middle">0.8</text>
<path d="M540.98,236.3V234.3" stroke="#000" stroke-width="0.5"/>
<text x="540.98" y="247.7" font-size="9.7" text-anchor="middle">1.0</text>
<path d="M568.33,236.3V234.3" stroke="#000" stroke-width="0.5"/>
<text x="568.33" y="247.7" font-size="9.7" text-anchor="middle">1.2</text>
<path d="M595.67,236.3V234.3" stroke="#000" stroke-width="0.5"/>
<text x="595.67" y="247.7" font-size="9.7" text-anchor="middle">1.4</text>
<path d="M623.03,236.3V234.3" stroke="#000" stroke-width="0.5"/>
<text x="623.03" y="247.7" font-size="9.7" text-anchor="middle">1.6</text>
<path d="M650.38,236.3V234.3" stroke="#000" stroke-width="0.5"/>
<text x="650.38" y="247.7" font-size="9.7" text-anchor="middle">1.8</text>
<path d="M677.73,236.3V234.3" stroke="#000" stroke-width="0.5"/>
<text x="677.73" y="247.7" font-size="9.7" text-anchor="middle">2.0</text>
<text x="575.8" y="262.7" font-size="9.7" text-anchor="middle">Diameter (nm)</text>
<text transform="translate(441.2,165.2) rotate(-90)" font-size="9.9" text-anchor="middle">Aspect Ratio (L/d)</text>
<text x="424" y="109.0" font-size="13.2">c)</text>
</svg>
</body></html>
